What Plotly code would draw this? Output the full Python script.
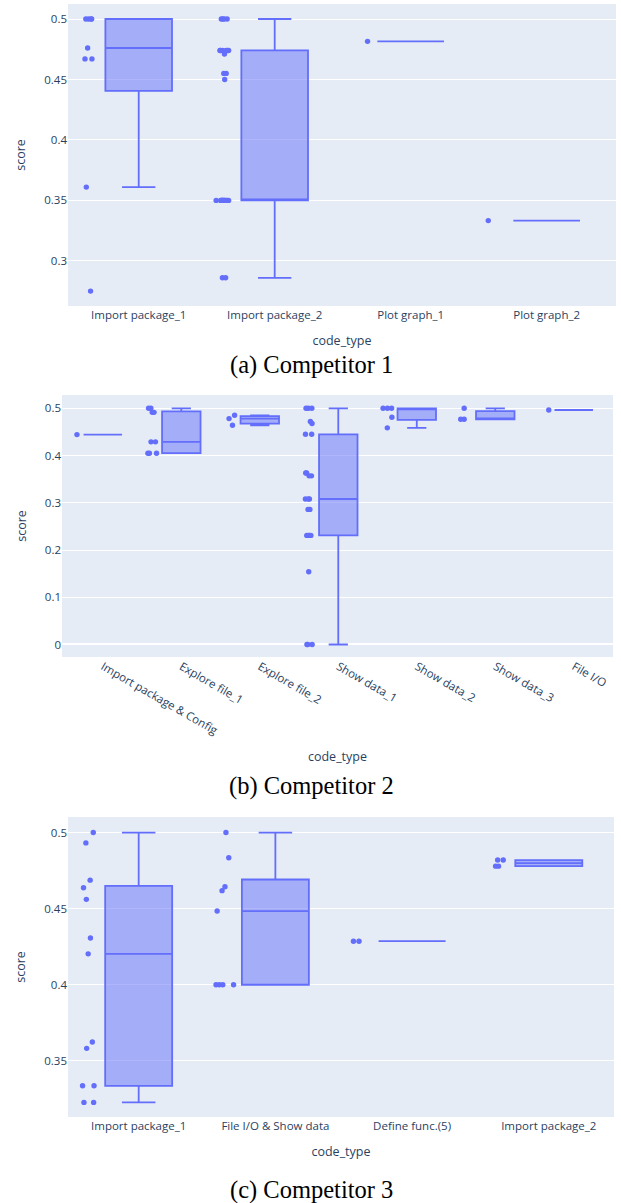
import plotly.graph_objects as go

W, H = 621, 1203

# ---------------- Competitor 1 ----------------
c1_categories = ["Import package_1", "Import package_2", "Plot graph_1", "Plot graph_2"]
c1_import_package_1 = [0.275, 0.361, 0.467, 0.467, 0.476, 0.5, 0.5, 0.5, 0.5]
c1_import_package_2 = [0.286, 0.286] + [0.35] * 13 + [0.45, 0.455, 0.455, 0.471] + [0.474] * 6 + [0.5] * 4
c1_plot_graph_1 = [0.4815]
c1_plot_graph_2 = [0.3333]

# ---------------- Competitor 2 ----------------
c2_categories = ["Import package & Config", "Explore file_1", "Explore file_2", "Show data_1",
                 "Show data_2", "Show data_3", "File I/O"]
c2_import_config = [0.4444]
c2_explore_file_1 = [0.405, 0.405, 0.405, 0.429, 0.429, 0.4915, 0.4915, 0.5, 0.5]
c2_explore_file_2 = [0.4642, 0.4782, 0.4852]
c2_show_data_1 = ([0.0] * 3 + [0.154] + [0.231] * 4 + [0.286] * 2 + [0.308] * 3 + [0.357] * 2
                  + [0.363] * 2 + [0.445] * 2 + [0.468, 0.472] + [0.5] * 3)
c2_show_data_2 = [0.4587, 0.481, 0.5, 0.5, 0.5]
c2_show_data_3 = [0.4767, 0.4767, 0.5]
c2_file_io = [0.4964]

# ---------------- Competitor 3 ----------------
c3_categories = ["Import package_1", "File I/O & Show data", "Define func.(5)", "Import package_2"]
c3_import_package_1 = [0.3227, 0.3227, 0.3336, 0.3336, 0.3582, 0.3624, 0.4203, 0.4307,
                       0.4561, 0.4637, 0.4687, 0.4932, 0.5]
c3_file_io_show = [0.4, 0.4, 0.4, 0.4, 0.4484, 0.4618, 0.4644, 0.4834, 0.5]
c3_define_func = [0.4286, 0.4286]
c3_import_package_2 = [0.4779, 0.4779, 0.4819, 0.4819]

captions = ["(a) Competitor 1", "(b) Competitor 2", "(c) Competitor 3"]

COLOR = "#636efa"
TICK_FONT = dict(family="Open Sans, Verdana, Arial, sans-serif", size=11.5, color="#2a3f5f")
TITLE_FONT = dict(family="Open Sans, Verdana, Arial, sans-serif", size=12.5, color="#2a3f5f")


def flatten(cats, groups):
    xs, ys = [], []
    for c, g in zip(cats, groups):
        xs += [c] * len(g)
        ys += list(g)
    return xs, ys


panels = [
    (c1_categories, [c1_import_package_1, c1_import_package_2, c1_plot_graph_1, c1_plot_graph_2]),
    (c2_categories, [c2_import_config, c2_explore_file_1, c2_explore_file_2, c2_show_data_1,
                     c2_show_data_2, c2_show_data_3, c2_file_io]),
    (c3_categories, [c3_import_package_1, c3_file_io_show, c3_define_func, c3_import_package_2]),
]

# page-pixel boxes of plot areas: (left, right, top, bottom)
areas = [(68, 616, 4, 306), (62, 613, 395, 657), (68, 614, 817, 1117)]
yranges = [[0.2627, 0.5124], [-0.0265, 0.5282], [0.3131, 0.5102]]
xranges = [[-0.52, 3.51], [-0.52, 6.5], [-0.517, 3.477]]
dticks = [0.05, 0.1, 0.05]
tickangles = [0, 30, 0]
caption_y = [365, 786, 1190]
caption_x = 311


def px_x(v):
    return v / W


def px_y(v):
    return 1 - v / H


fig = go.Figure()
layout = {}
for i, (cats, groups) in enumerate(panels):
    xs, ys = flatten(cats, groups)
    sfx = "" if i == 0 else str(i + 1)
    fig.add_trace(go.Box(
        x=xs, y=ys, boxpoints="all",
        marker=dict(color=COLOR, size=5.4),
        line=dict(color=COLOR, width=1.8),
        xaxis="x" + sfx, yaxis="y" + sfx, showlegend=False,
    ))
    l, r, t, b = areas[i]
    layout["xaxis" + sfx] = dict(
        domain=[px_x(l), px_x(r)], anchor="y" + sfx, type="category",
        categoryorder="array", categoryarray=cats, range=xranges[i],
        tickangle=tickangles[i], tickfont=TICK_FONT,
        title=dict(text="code_type", font=TITLE_FONT),
        showgrid=False,
    )
    layout["yaxis" + sfx] = dict(
        domain=[px_y(b), px_y(t)], anchor="x" + sfx, range=yranges[i],
        dtick=dticks[i], tickfont=TICK_FONT,
        title=dict(text="score", font=TITLE_FONT, standoff=15),
        gridcolor="white", zerolinecolor="white", zerolinewidth=2,
    )

annotations = []
for cap, cy in zip(captions, caption_y):
    annotations.append(dict(
        text=cap, x=px_x(caption_x), y=px_y(cy), xref="paper", yref="paper",
        xanchor="center", yanchor="middle", showarrow=False,
        font=dict(family="Liberation Serif, Times New Roman, serif", size=24.5, color="black"),
    ))

fig.update_layout(
    template="plotly", width=W, height=H,
    margin=dict(l=0, r=0, t=0, b=0),
    paper_bgcolor="white", plot_bgcolor="#E5ECF6",
    annotations=annotations, **layout,
)

# remove the browser's default 8px body margin so the figure sits at the page origin
fig.write_html("out.html", config={"displayModeBar": False},
               post_script="document.body.style.margin='0px';")
